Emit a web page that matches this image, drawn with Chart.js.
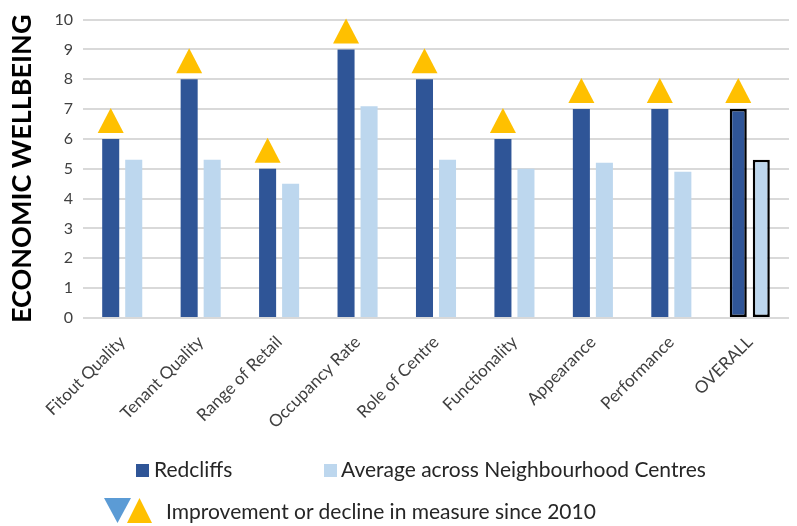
<!DOCTYPE html>
<html>
<head>
<meta charset="utf-8">
<script src="https://cdn.jsdelivr.net/npm/chart.js@4"></script>
<style>
  body { margin: 0; background: #fff; }
  #wrap { position: relative; width: 797px; height: 526px; overflow: hidden; font-family: Lato, "Liberation Sans", sans-serif; }
  #chart { position: absolute; left: 0; top: 0; }
  .lg { position: absolute; font-size: 21px; line-height: 21px; color: #262626; white-space: nowrap; }
  .sw { position: absolute; width: 13px; height: 13px; }
</style>
</head>
<body>
<div id="wrap">
  <canvas id="chart" width="797" height="526"></canvas>
  <div class="sw" style="left:136px; top:464px; background:#2F5597;"></div>
  <div class="lg" style="left:154px; top:458px;">Redcliffs</div>
  <div class="sw" style="left:324px; top:464px; background:#BDD7EE;"></div>
  <div class="lg" style="left:341px; top:458px;">Average across Neighbourhood Centres</div>
  <svg style="position:absolute; left:100px; top:494px;" width="60" height="32">
    <polygon points="4,4 31,4 17.5,29" fill="#5B9BD5"/>
    <polygon points="27,29 52,29 39.5,4" fill="#FFC000"/>
  </svg>
  <div class="lg" style="left:166px; top:500px;">Improvement or decline in measure since 2010</div>
</div>
<script>
// Chart data
const categories = ['Fitout Quality', 'Tenant Quality', 'Range of Retail', 'Occupancy Rate',
    'Role of Centre', 'Functionality', 'Appearance', 'Performance', 'OVERALL'];
const redcliffs = [6, 8, 5, 9, 8, 6, 7, 7, 7];
const neighbourhoodAvg = [5.3, 5.3, 4.5, 7.1, 5.3, 5.0, 5.2, 4.9, 5.3];
// change since 2010: 'up' = improvement, 'down' = decline
const changeSince2010 = ['up', 'up', 'up', 'up', 'up', 'up', 'up', 'up', 'up'];
const yTicks = [0, 1, 2, 3, 4, 5, 6, 7, 8, 9, 10];

const DARK = '#2F5597';
const LIGHT = '#BDD7EE';

// last bar (OVERALL) gets a black outline
const lastIdx = categories.length - 1;
const borderW = categories.map((c, i) => i === lastIdx ? 2.5 : 0);

// Triangles above the Redcliffs bars
const trianglePlugin = {
    id: 'changeTriangles',
    afterDatasetsDraw(chart) {
        const ctx = chart.ctx;
        const meta = chart.getDatasetMeta(0);
        ctx.save();
        meta.data.forEach((bar, i) => {
            const dir = changeSince2010[i];
            if (!dir) return;
            const base = bar.y - 6;
            const h = 25, hw = 13;
            ctx.beginPath();
            if (dir === 'up') {
                ctx.fillStyle = '#FFC000';
                ctx.moveTo(bar.x - hw, base);
                ctx.lineTo(bar.x + hw, base);
                ctx.lineTo(bar.x, base - h);
            } else {
                ctx.fillStyle = '#5B9BD5';
                ctx.moveTo(bar.x - hw, base - h);
                ctx.lineTo(bar.x + hw, base - h);
                ctx.lineTo(bar.x, base);
            }
            ctx.closePath();
            ctx.fill();
        });
        ctx.restore();
    }
};

new Chart(document.getElementById('chart'), {
    type: 'bar',
    data: {
        labels: categories,
        datasets: [{
            label: 'Redcliffs',
            data: redcliffs,
            backgroundColor: DARK,
            borderColor: '#000',
            borderWidth: borderW,
            borderSkipped: false
        }, {
            label: 'Average across Neighbourhood Centres',
            data: neighbourhoodAvg,
            backgroundColor: LIGHT,
            borderColor: '#000',
            borderWidth: borderW,
            borderSkipped: false
        }]
    },
    options: {
        responsive: false,
        animation: false,
        categoryPercentage: 0.587,
        barPercentage: 0.74,
        layout: { padding: { left: 0, right: 8, top: 18, bottom: 0 } },
        plugins: {
            legend: { display: false },
            tooltip: { enabled: false }
        },
        scales: {
            x: {
                grid: { display: false },
                border: { display: false },
                ticks: {
                    maxRotation: 45,
                    minRotation: 45,
                    padding: 6,
                    color: '#404040',
                    font: { family: 'Lato', size: 17 }
                },
                afterFit: (scale) => { scale.height = 208; }
            },
            y: {
                min: 0,
                max: 10,
                afterBuildTicks: (scale) => { scale.ticks = yTicks.map(v => ({ value: v })); },
                grid: { color: '#d9d9d9', lineWidth: 2, drawTicks: false },
                border: { display: false },
                ticks: {
                    padding: 10,
                    color: '#404040',
                    font: { family: 'Lato', size: 16 }
                },
                title: {
                    display: true,
                    text: 'ECONOMIC WELLBEING',
                    color: '#000',
                    font: { family: 'Lato', size: 27, weight: 'bold' },
                    padding: { top: 6, bottom: 0 }
                },
                afterFit: (scale) => { scale.width = 83; }
            }
        }
    },
    plugins: [trianglePlugin]
});
</script>
</body>
</html>
